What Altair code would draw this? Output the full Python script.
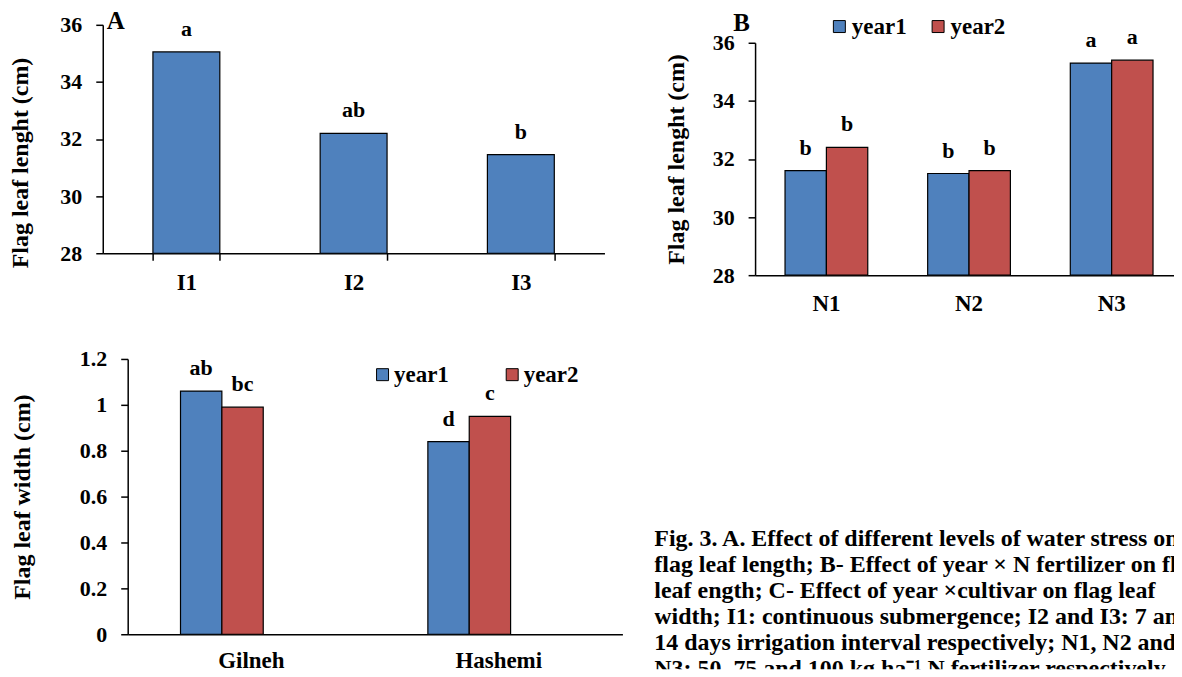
import altair as alt
import pandas as pd

FONT = "Liberation Serif"
BLUE = "#4F81BD"
RED = "#C0504D"

# ---------------- data ----------------
# Panel A
irrigation = ["I1", "I2", "I3"]
length_A = [35.05, 32.2, 31.45]
letters_A = ["a", "ab", "b"]

# Panel B
nitrogen = ["N1", "N2", "N3"]
years = ["year1", "year2"]
length_B_y1 = [31.6, 31.5, 35.3]
length_B_y2 = [32.4, 31.6, 35.4]
letters_B_y1 = ["b", "b", "a"]
letters_B_y2 = ["b", "b", "a"]

# Panel C
cultivars = ["Gilneh", "Hashemi"]
width_C_y1 = [1.06, 0.84]
width_C_y2 = [0.99, 0.95]
letters_C_y1 = ["ab", "d"]
letters_C_y2 = ["bc", "c"]

caption_lines = [
    "Fig. 3. A. Effect of different levels of water stress on",
    "flag leaf length; B- Effect of year \u00d7 N fertilizer on flag",
    "leaf ength; C- Effect of year \u00d7cultivar on flag leaf",
    "width; I1: continuous submergence; I2 and I3: 7 and",
    "14 days irrigation interval respectively; N1, N2 and",
    "N3: 50, 75 and 100 kg ha\u207b\u00b9 N fertilizer respectively.",
]

# ---------------- tables ----------------
dfA = pd.DataFrame({"cat": irrigation, "v": length_A, "lab": letters_A})
dfB = pd.DataFrame({
    "n": nitrogen * 2,
    "year": [years[0]] * 3 + [years[1]] * 3,
    "v": length_B_y1 + length_B_y2,
    "lab": letters_B_y1 + letters_B_y2,
})
dfC = pd.DataFrame({
    "c": cultivars * 2,
    "year": [years[0]] * 2 + [years[1]] * 2,
    "v": width_C_y1 + width_C_y2,
    "lab": letters_C_y1 + letters_C_y2,
})
dfCap = pd.DataFrame({"i": list(range(len(caption_lines))), "t": caption_lines})

bar_style = dict(stroke="black", strokeWidth=1.2)
lab_style = dict(font=FONT, fontSize=22, fontWeight="bold", color="black",
                 baseline="middle", dy=-23)


def legend(x, y, col_pad, lab_off):
    return alt.Legend(title=None, orient="none", legendX=x, legendY=y,
                      direction="horizontal", symbolType="square", symbolSize=144,
                      symbolStrokeColor="black", symbolStrokeWidth=1,
                      symbolOpacity=1, labelFont=FONT, labelFontSize=23,
                      labelFontWeight="bold", labelColor="black",
                      columnPadding=col_pad, labelOffset=lab_off, padding=0)


def letter_title(t, off, dx):
    return alt.TitleParams(t, anchor="start", frame="group", font=FONT, fontSize=25,
                           fontWeight="bold", color="black", offset=off, dx=dx)


# ---------------- panel A ----------------
xA = alt.X("cat:N", sort=irrigation,
           scale=alt.Scale(paddingInner=0.6, paddingOuter=0.3),
           axis=alt.Axis(title=None, labelAngle=0, tickBand="extent", tickSize=7,
                         labelPadding=11, labelFontSize=23))
yA = alt.Y("v:Q", scale=alt.Scale(domain=[28, 36], nice=False, zero=False),
           axis=alt.Axis(title="Flag leaf lenght (cm)", values=[28, 30, 32, 34, 36],
                         titleX=-82, titleY=138, titleBaseline="middle"))
barsA = alt.Chart(dfA).mark_bar(fill=BLUE, **bar_style).encode(x=xA, y=yA, y2=alt.datum(28))
textA = alt.Chart(dfA).mark_text(**lab_style).encode(x=xA, y=yA, text="lab:N")
panelA = alt.layer(barsA, textA).properties(
    width=503, height=229, title=letter_title("A", -20, 4))

# ---------------- panel B (view starts at the caption column) ----------------
xB = alt.X("n:N", sort=nitrogen,
           scale=alt.Scale(range=[101, 530], paddingInner=0.42, paddingOuter=0.21),
           axis=alt.Axis(title=None, labelAngle=0, ticks=False, tickSize=0,
                         labelPadding=17, labelFontSize=23))
oB = alt.XOffset("year:N", sort=years)
yB = alt.Y("v:Q", scale=alt.Scale(domain=[28, 36], range=[251, 18], nice=False, zero=False),
           axis=alt.Axis(title="Flag leaf lenght (cm)", values=[28, 30, 32, 34, 36],
                         offset=-101, titleX=-79, titleBaseline="middle"))
colB = alt.Color("year:N", sort=years, scale=alt.Scale(domain=years, range=[BLUE, RED]),
                 legend=legend(174, -10, 20, 1))
barsB = alt.Chart(dfB).mark_bar(**bar_style).encode(x=xB, xOffset=oB, y=yB, y2=alt.datum(28), color=colB)
textB = alt.Chart(dfB).mark_text(**lab_style).encode(x=xB, xOffset=oB, y=yB, text="lab:N")
panelB = alt.layer(barsB, textB).properties(
    width=530, height=251, title=letter_title("B", -21, 79))

# ---------------- panel C ----------------
xC = alt.X("c:N", sort=cultivars,
           scale=alt.Scale(range=[25, 521], paddingInner=0.427, paddingOuter=0.2135),
           axis=alt.Axis(title=None, labelAngle=0, ticks=False, tickSize=0,
                         labelPadding=15, labelFontSize=23))
oC = alt.XOffset("year:N", sort=years)
yC = alt.Y("v:Q", scale=alt.Scale(domain=[0, 1.2], range=[337, 61], nice=False),
           axis=alt.Axis(title="Flag leaf width (cm)", values=[0, 0.2, 0.4, 0.6, 0.8, 1.0, 1.2],
                         format="~g", offset=-25, titleX=-105, titleBaseline="middle"))
colC = alt.Color("year:N", sort=years, scale=alt.Scale(domain=years, range=[BLUE, RED]),
                 legend=legend(269, 65, 52, 0))
barsC = alt.Chart(dfC).mark_bar(**bar_style).encode(x=xC, xOffset=oC, y=yC, y2=alt.datum(0), color=colC)
textC = alt.Chart(dfC).mark_text(**lab_style).encode(x=xC, xOffset=oC, y=yC, text="lab:N")
panelC = alt.layer(barsC, textC).properties(width=521, height=337)

# ---------------- caption (clipped like the cropped original) ----------------
cap = alt.Chart(dfCap).mark_text(align="left", baseline="middle", font=FONT, fontSize=24,
                                 fontWeight="bold", color="black", clip=True).encode(
    x=alt.value(0),
    y=alt.Y("i:Q", scale=alt.Scale(domain=[0, 5], range=[242, 242 + 5 * 26]), axis=None),
    text="t:N",
).properties(width=521, height=372)

chart = alt.concat(
    panelA, panelB, panelC, cap,
    columns=2, spacing={"row": 23, "column": 32}, bounds="flush", align="each",
).resolve_scale(
    color="independent"
).properties(
    padding={"left": 0, "top": 0, "right": -9, "bottom": 0}
).configure_view(stroke=None).configure_axis(
    grid=False, labelFont=FONT, titleFont=FONT, labelFontWeight="bold", titleFontWeight="bold",
    labelColor="black", titleColor="black", domainColor="black", tickColor="black",
    domainWidth=1.5, tickWidth=1.5, tickSize=7, labelFontSize=22, titleFontSize=24,
    labelPadding=14,
)

chart.save("out.html", embed_options={"renderer": "svg", "actions": False})
